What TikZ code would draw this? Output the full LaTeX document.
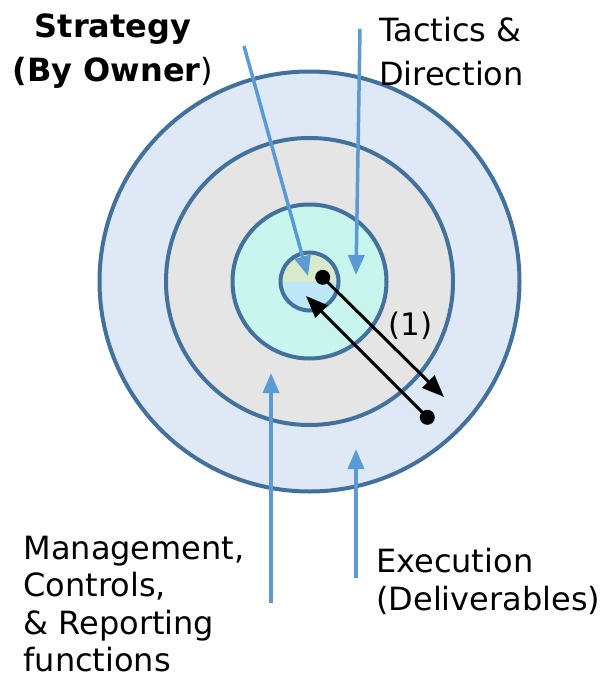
\documentclass[tikz,border=0pt]{standalone}
\usepackage{fontspec}
\setmainfont{DejaVu Sans}
\usetikzlibrary{arrows.meta}
\definecolor{ringline}{HTML}{41719C}
\definecolor{ringA}{HTML}{DEE9F5}
\definecolor{ringB}{HTML}{E5E5E5}
\definecolor{ringC}{HTML}{C8F5EE}
\definecolor{coreTop}{HTML}{D8EACC}
\definecolor{coreBot}{HTML}{BDE6F8}
\definecolor{pointer}{HTML}{5B9BD5}
\begin{document}
\begin{tikzpicture}[x=1pt,y=-1pt,
  ring/.style={circle,draw=ringline,line width=4pt,inner sep=0pt},
  bluearrow/.style={draw=pointer,line width=3.5pt,-{Triangle[width=16pt,length=20pt]}},
  blackarrow/.style={draw=black,line width=3pt,-{Triangle[width=17pt,length=22pt]}},
  dotnode/.style={circle,fill=black,inner sep=0pt,minimum size=15pt},
  lbl/.style={inner sep=0pt,font=\fontsize{32}{44}\selectfont,align=left},
  lblb/.style={inner sep=0pt,font=\fontsize{32}{37.5}\selectfont,align=left}]
\useasboundingbox (0,0) rectangle (608,679);
\coordinate (c) at (309.5,281.5);
\node[ring,fill=ringA,minimum size=420pt] (outer) at (c) {};
\node[ring,fill=ringB,minimum size=287pt] (mid) at (c) {};
\node[ring,fill=ringC,minimum size=154pt] (inner) at (c) {};
\node[ring,minimum size=58pt,path picture={
   \fill[coreBot] (path picture bounding box.south west) rectangle (path picture bounding box.north east);
   \fill[coreTop] (path picture bounding box.west) rectangle (path picture bounding box.north east);}] (core) at (c) {};
% blue pointers
\coordinate (s0) at (244,46);
\coordinate (s1) at (308,276);
\coordinate (t0) at (360,29);
\coordinate (t1) at (356,275);
\coordinate (m0) at (271,603);
\coordinate (m1) at (271,373);
\coordinate (e0) at (356,578);
\coordinate (e1) at (356,449);
\draw[bluearrow] (s0) -- (s1);
\draw[bluearrow] (t0) -- (t1);
\draw[bluearrow] (m0) -- (m1);
\draw[bluearrow] (e0) -- (e1);
% black arrows
\node[dotnode] (d1) at (322.7,277.3) {};
\node[dotnode] (d2) at (427.3,417.3) {};
\coordinate (k1) at (444,397);
\coordinate (k2) at (306,296);
\draw[blackarrow] (d1.center) -- (k1);
\draw[blackarrow] (d2.center) -- (k2);
\node[inner sep=0pt,anchor=base west,font=\fontsize{31}{36}\selectfont] (one) at (388,335) {(1)};
% labels
\node[lbl,align=center,anchor=base] (strat) at (113,81.4) {\textbf{Strategy}\\\textbf{(By Owner})};
\node[lbl,anchor=base west] (tact) at (379,86) {Tactics \&\\Direction};
\node[lblb,anchor=base west] (mgmt) at (23.3,671.7) {Management,\\Controls,\\\& Reporting\\functions};
\node[lblb,anchor=base west] (exec) at (376,610) {Execution\\(Deliverables)};
\end{tikzpicture}
\end{document}
